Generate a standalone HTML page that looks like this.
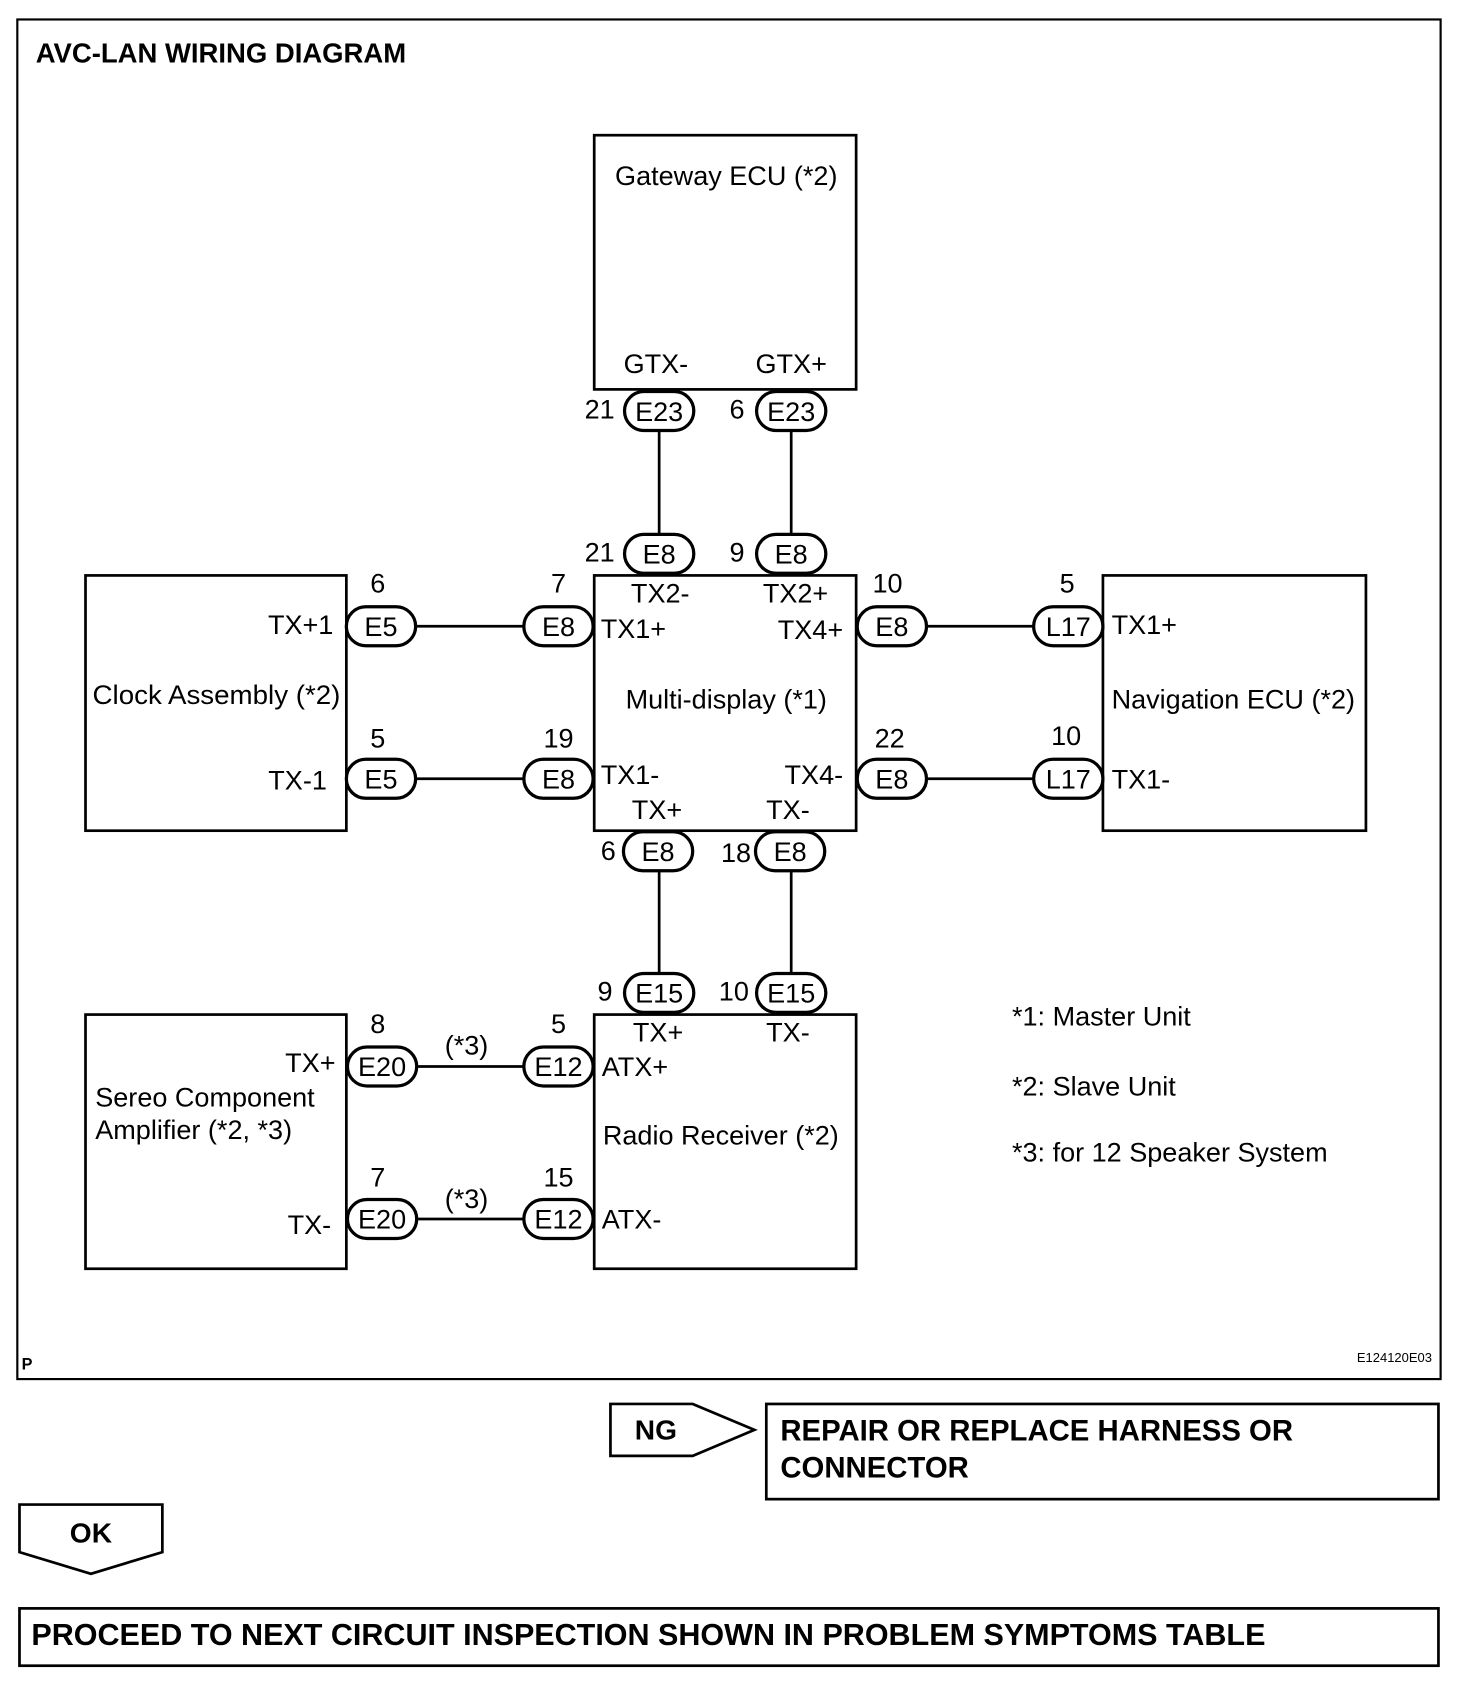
<!DOCTYPE html>
<html><head><style>html,body{margin:0;padding:0;background:#fff}svg{display:block}</style></head>
<body>
<svg width="1472" height="1696" viewBox="0 0 1360 1568" preserveAspectRatio="none" xmlns="http://www.w3.org/2000/svg" font-family="Liberation Sans, Arial, sans-serif">
<rect x="0" y="0" width="1360" height="1568" fill="#fff"/>
<g fill="none" stroke="#000" stroke-width="2.5">
<rect x="16" y="18" width="1315" height="1257" stroke-width="2"/>
<rect x="549" y="125" width="242" height="235"/>
<rect x="549" y="532" width="242" height="236"/>
<rect x="79" y="532" width="241" height="236"/>
<rect x="1019" y="532" width="243" height="236"/>
<rect x="549" y="938" width="242" height="235"/>
<rect x="79" y="938" width="241" height="235"/>
<line x1="609" y1="398" x2="609" y2="494"/>
<line x1="731" y1="398" x2="731" y2="494"/>
<line x1="609" y1="805" x2="609" y2="900"/>
<line x1="731" y1="805" x2="731" y2="900"/>
<line x1="385" y1="579" x2="485" y2="579"/>
<line x1="385" y1="720" x2="485" y2="720"/>
<line x1="857" y1="579" x2="955" y2="579"/>
<line x1="857" y1="720" x2="955" y2="720"/>
<line x1="386" y1="986" x2="485" y2="986"/>
<line x1="386" y1="1127" x2="485" y2="1127"/>
<g stroke-width="3" fill="#fff">
<rect x="577" y="362" width="64" height="36" rx="18"/>
<rect x="699" y="362" width="64" height="36" rx="18"/>
<rect x="577" y="494" width="64" height="36" rx="18"/>
<rect x="699" y="494" width="64" height="36" rx="18"/>
<rect x="320" y="561" width="64" height="36" rx="18"/>
<rect x="320" y="702" width="64" height="36" rx="18"/>
<rect x="484" y="561" width="64" height="36" rx="18"/>
<rect x="484" y="702" width="64" height="36" rx="18"/>
<rect x="792" y="561" width="64" height="36" rx="18"/>
<rect x="792" y="702" width="64" height="36" rx="18"/>
<rect x="955" y="561" width="64" height="36" rx="18"/>
<rect x="955" y="702" width="64" height="36" rx="18"/>
<rect x="576" y="769" width="64" height="36" rx="18"/>
<rect x="698" y="769" width="64" height="36" rx="18"/>
<rect x="577" y="900" width="64" height="36" rx="18"/>
<rect x="699" y="900" width="64" height="36" rx="18"/>
<rect x="321" y="968" width="64" height="36" rx="18"/>
<rect x="321" y="1109" width="64" height="36" rx="18"/>
<rect x="484" y="968" width="64" height="36" rx="18"/>
<rect x="484" y="1109" width="64" height="36" rx="18"/>
</g>
<polygon points="564,1298 640,1298 697,1322 640,1346 564,1346"/>
<rect x="708" y="1298" width="621" height="88"/>
<polygon points="18,1391 150,1391 150,1435 84,1455 18,1435"/>
<rect x="18" y="1487" width="1311" height="53"/>
</g>
<g font-size="25" fill="#000" text-anchor="middle">
<text x="609" y="389">E23</text><text x="731" y="389">E23</text>
<text x="609" y="521">E8</text><text x="731" y="521">E8</text>
<text x="352" y="588">E5</text><text x="352" y="729">E5</text>
<text x="516" y="588">E8</text><text x="516" y="729">E8</text>
<text x="824" y="588">E8</text><text x="824" y="729">E8</text>
<text x="987" y="588">L17</text><text x="987" y="729">L17</text>
<text x="608" y="796">E8</text><text x="730" y="796">E8</text>
<text x="609" y="927">E15</text><text x="731" y="927">E15</text>
<text x="353" y="995">E20</text><text x="353" y="1136">E20</text>
<text x="516" y="995">E12</text><text x="516" y="1136">E12</text>
<text x="671" y="171">Gateway ECU (*2)</text>
<text x="606" y="345">GTX-</text><text x="731" y="345">GTX+</text>
<text x="610" y="557">TX2-</text><text x="735" y="557">TX2+</text>
<text x="671" y="655">Multi-display (*1)</text>
<text x="607" y="757">TX+</text><text x="728" y="757">TX-</text>
<text x="608" y="963">TX+</text><text x="728" y="963">TX-</text>
<text x="349" y="548">6</text><text x="349" y="691">5</text>
<text x="516" y="548">7</text><text x="516" y="691">19</text>
<text x="820" y="548">10</text><text x="822" y="691">22</text>
<text x="986" y="548">5</text><text x="985" y="689">10</text>
<text x="554" y="387">21</text><text x="681" y="387">6</text>
<text x="554" y="519">21</text><text x="681" y="519">9</text>
<text x="562" y="795">6</text><text x="680" y="797">18</text>
<text x="559" y="925">9</text><text x="678" y="925">10</text>
<text x="349" y="955">8</text><text x="349" y="1097">7</text>
<text x="516" y="955">5</text><text x="516" y="1097">15</text>
<text x="431" y="975">(*3)</text><text x="431" y="1117">(*3)</text>
<text x="200" y="651" textLength="229" lengthAdjust="spacingAndGlyphs">Clock Assembly (*2)</text>
</g>
<g font-size="25" fill="#000">
<text x="555" y="590">TX1+</text><text x="555" y="725">TX1-</text>
<text x="779" y="591" text-anchor="end">TX4+</text><text x="779" y="725" text-anchor="end">TX4-</text>
<text x="308" y="586" text-anchor="end">TX+1</text><text x="302" y="730" text-anchor="end">TX-1</text>
<text x="1027" y="586">TX1+</text><text x="1027" y="655">Navigation ECU (*2)</text><text x="1027" y="729">TX1-</text>
<text x="556" y="995">ATX+</text><text x="557" y="1058">Radio Receiver (*2)</text><text x="556" y="1136">ATX-</text>
<text x="310" y="991" text-anchor="end">TX+</text>
<text x="88" y="1023">Sereo Component</text><text x="88" y="1053">Amplifier (*2, *3)</text>
<text x="306" y="1141" text-anchor="end">TX-</text>
<text x="935" y="948">*1: Master Unit</text>
<text x="935" y="1013">*2: Slave Unit</text>
<text x="935" y="1074">*3: for 12 Speaker System</text>
</g>
<g font-weight="bold" fill="#000">
<text x="33" y="58" font-size="25.4">AVC-LAN WIRING DIAGRAM</text>
<text x="20" y="1266" font-size="15">P</text>
<text x="1323" y="1259" font-size="12" font-weight="normal" text-anchor="end">E124120E03</text>
<text x="606" y="1331" font-size="26" text-anchor="middle">NG</text>
<text x="721" y="1332" font-size="27.1">REPAIR OR REPLACE HARNESS OR</text>
<text x="721" y="1366" font-size="27.1">CONNECTOR</text>
<text x="84" y="1426" font-size="26" text-anchor="middle">OK</text>
<text x="29" y="1521" font-size="28.2">PROCEED TO NEXT CIRCUIT INSPECTION SHOWN IN PROBLEM SYMPTOMS TABLE</text>
</g>
</svg>
</body></html>
